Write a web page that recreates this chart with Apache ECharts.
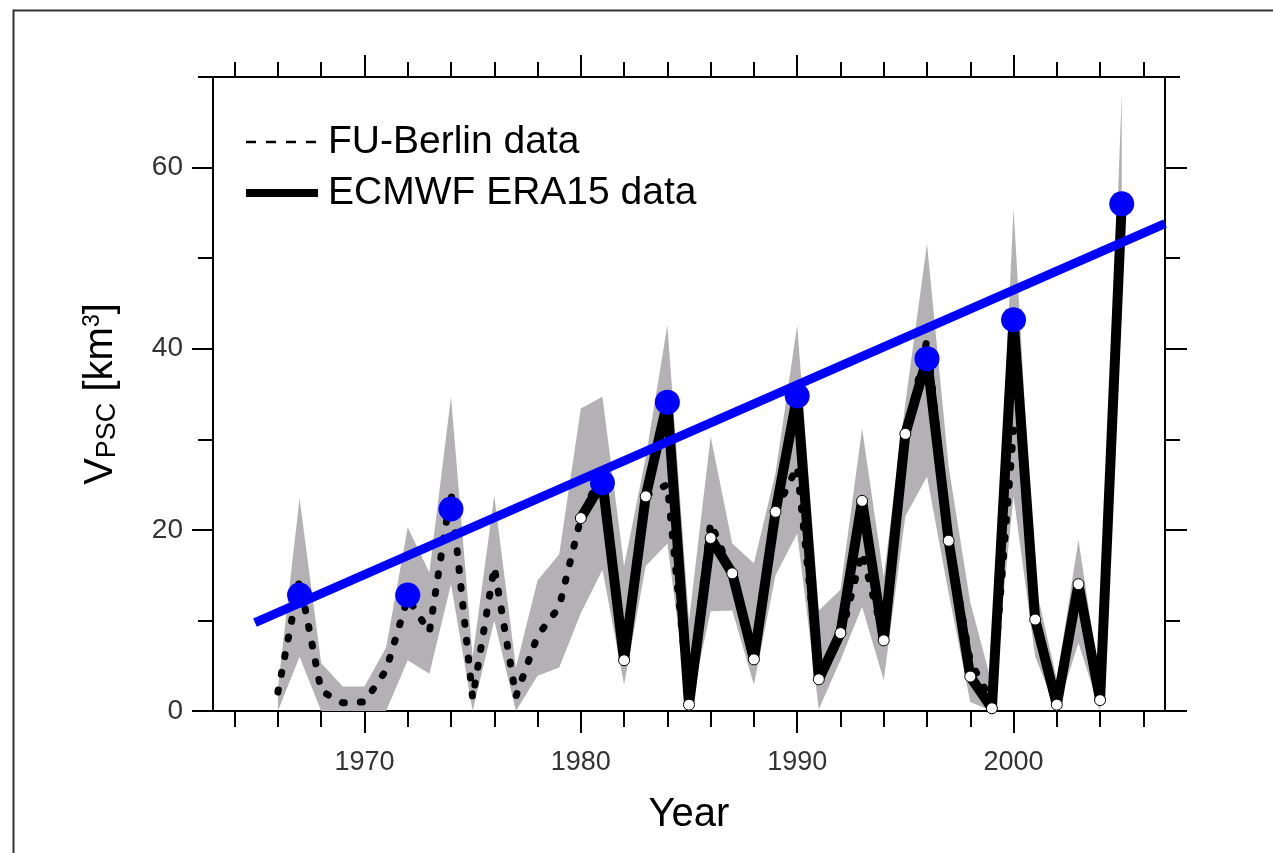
<!DOCTYPE html>
<html>
<head>
  <meta charset="utf-8">
  <title>V_PSC</title>
  <script src="https://cdn.jsdelivr.net/npm/echarts@6/dist/echarts.min.js"></script>
  <style>
    html, body { margin: 0; padding: 0; background: #fff; }
    #main { width: 1273px; height: 853px; }
  </style>
</head>
<body>
<div id="main"></div>
<script>
  // ---- data ----
  var bandYears = [1966, 1967, 1968, 1969, 1970, 1971, 1972, 1973, 1974, 1975,
                   1976, 1977, 1978, 1979, 1980, 1981, 1982, 1983, 1984, 1985,
                   1986, 1987, 1988, 1989, 1990, 1991, 1992, 1993, 1994, 1995,
                   1996, 1997, 1998, 1999, 2000, 2001, 2002, 2003, 2004, 2005];
  var bandUpper = [2.5, 23.5, 5.3, 2.7, 2.7, 7.0, 20.3, 15.3, 34.7, 6.0,
                   23.8, 4.8, 14.4, 17.3, 33.4, 34.7, 16.0, 28.0, 42.6, 10.0,
                   30.3, 18.5, 16.3, 26.3, 42.6, 11.1, 13.4, 31.2, 14.8, 34.0,
                   51.6, 27.0, 12.0, 3.0, 55.5, 14.0, 3.5, 18.9, 3.0, 68.2];
  var bandLower = [0, 6.0, 0, 0, 0, 0, 5.6, 4.1, 14.0, 0,
                   10.0, 0, 3.9, 4.8, 10.8, 15.6, 2.9, 16.0, 18.5, 0,
                   11.0, 11.1, 2.9, 15.0, 19.6, 0.2, 5.6, 11.5, 3.4, 21.5,
                   25.9, 13.0, 1.0, 0, 23.7, 6.0, 0, 7.5, 0, 44.0];

  var fuYears = [1966, 1967, 1968, 1969, 1970, 1971, 1972, 1973, 1974, 1975,
                 1976, 1977, 1978, 1979, 1980, 1981, 1982, 1983, 1984, 1985,
                 1986, 1987, 1988, 1989, 1990, 1991, 1992, 1993, 1994, 1995,
                 1996, 1997, 1998, 1999, 2000];
  var fuValues = [2.1, 14.5, 2.2, 0.9, 1.0, 4.5, 12.5, 8.7, 24.2, 1.4,
                  15.9, 1.6, 8.3, 11.5, 21.3, 26.5, 6.0, 23.8, 25.0, 1.0,
                  20.8, 15.0, 6.5, 22.0, 27.0, 4.0, 8.0, 17.5, 8.0, 30.0,
                  41.0, 19.0, 5.5, 1.0, 31.0];

  var eraYears = [1980, 1981, 1982, 1983, 1984, 1985, 1986, 1987, 1988, 1989,
                  1990, 1991, 1992, 1993, 1994, 1995, 1996, 1997, 1998, 1999,
                  2000, 2001, 2002, 2003, 2004, 2005];
  var eraValues = [21.3, 25.3, 5.6, 23.7, 34.1, 0.7, 19.1, 15.2, 5.7, 22.0,
                   34.8, 3.5, 8.6, 23.2, 7.8, 30.6, 38.9, 18.8, 3.8, 0.3,
                   43.2, 10.1, 0.7, 14.0, 1.2, 56.0];

  var peakYears = [1967, 1972, 1974, 1981, 1984, 1990, 1996, 2000, 2005];
  var peakValues = [12.8, 12.8, 22.3, 25.2, 34.1, 34.8, 38.9, 43.2, 56.0];

  var trendYears = [1964.94, 2007];
  var trendValues = [9.75, 53.8];

  // ticks / labels
  var xMinorTicks = [1964, 1966, 1968, 1970, 1972, 1974, 1976, 1978, 1980, 1982, 1984,
                     1986, 1988, 1990, 1992, 1994, 1996, 1998, 2000, 2002, 2004, 2006];
  var xMajorTicks = [1970, 1980, 1990, 2000];
  var yMinorTicks = [0, 10, 20, 30, 40, 50, 60, 70];
  var yMajorTicks = [0, 20, 40, 60];

  var FONT = "'Liberation Sans', Arial, Helvetica, sans-serif";
  var GRAY = '#b3b1b4';
  var BLUE = '#0000ff';

  function pairs(xs, ys) {
    return xs.map(function (x, i) { return [x, ys[i]]; });
  }
  var eraMarkers = pairs(eraYears, eraValues)
    .filter(function (p) { return peakYears.indexOf(p[0]) < 0; });
  var bandData = bandYears.map(function (y, i) { return [y, bandLower[i], bandUpper[i]]; });

  function plainNum(v) { return String(v); }

  function xAx(grid, pos, ticks, len, labels) {
    return {
      type: 'value', gridIndex: grid, position: pos, min: 1963, max: 2007,
      splitLine: { show: false },
      axisLine: { show: true, onZero: false, lineStyle: { color: '#000', width: 2 } },
      axisTick: { show: true, customValues: ticks, length: len, lineStyle: { color: '#000', width: 2 } },
      axisLabel: labels ? {
        show: true, customValues: xMajorTicks, margin: 38, formatter: plainNum,
        fontSize: 27, color: '#333', fontFamily: FONT
      } : { show: false }
    };
  }
  function yAx(grid, pos, ticks, len, labels) {
    return {
      type: 'value', gridIndex: grid, position: pos, min: 0, max: 70,
      splitLine: { show: false },
      axisLine: { show: true, onZero: false, lineStyle: { color: '#000', width: 2 } },
      axisTick: { show: true, customValues: ticks, length: len, lineStyle: { color: '#000', width: 2 } },
      axisLabel: labels ? {
        show: true, customValues: yMajorTicks, margin: 30, formatter: plainNum,
        fontSize: 28, color: '#333', fontFamily: FONT
      } : { show: false }
    };
  }

  var xBottomMajor = xAx(1, 'bottom', xMajorTicks, 22, true);
  xBottomMajor.name = 'Year';
  xBottomMajor.nameLocation = 'middle';
  xBottomMajor.nameGap = 84;
  xBottomMajor.nameTextStyle = { fontSize: 40, color: '#000', fontFamily: FONT };

  var yLeftMajor = yAx(1, 'left', yMajorTicks, 21, true);
  yLeftMajor.name = '{a|V}{b|PSC}{a| [km}{c|3}{a|]}';
  yLeftMajor.nameLocation = 'middle';
  yLeftMajor.nameRotate = 90;
  yLeftMajor.nameGap = 92;
  yLeftMajor.nameTextStyle = {
    color: '#000', fontFamily: FONT, fontSize: 40,
    rich: {
      a: { fontSize: 40, color: '#000', fontFamily: FONT },
      b: { fontSize: 27, color: '#000', fontFamily: FONT, verticalAlign: 'bottom' },
      c: { fontSize: 23, color: '#000', fontFamily: FONT, verticalAlign: 'top' }
    }
  };

  var chart = echarts.init(document.getElementById('main'));
  var option = {
    animation: false,
    backgroundColor: '#fff',
    grid: [
      { left: 213, right: 108, top: 77, bottom: 142 },
      { left: 213, right: 108, top: 77, bottom: 142 }
    ],
    xAxis: [
      xAx(0, 'bottom', xMinorTicks, 16, false),
      xAx(0, 'top', xMinorTicks, 15, false),
      xBottomMajor,
      xAx(1, 'top', xMajorTicks, 22, false)
    ],
    yAxis: [
      yAx(0, 'left', yMinorTicks, 15, false),
      yAx(0, 'right', yMinorTicks, 15, false),
      yLeftMajor,
      yAx(1, 'right', yMajorTicks, 22, false)
    ],
    legend: {
      left: 242, top: 122, orient: 'vertical', padding: 0,
      itemWidth: 72, itemHeight: 14, itemGap: 11,
      selectedMode: false,
      textStyle: { fontSize: 39, color: '#000', fontFamily: FONT, lineHeight: 40, padding: [0, 0, 0, 5] },
      data: [
        { name: 'FU-Berlin data', itemStyle: { opacity: 0 },
          lineStyle: { type: [10, 10], width: 2.5, cap: 'butt', color: '#000' } },
        { name: 'ECMWF ERA15 data', itemStyle: { opacity: 0 },
          lineStyle: { width: 8, color: '#000' } }
      ]
    },
    graphic: [{
      type: 'rect', left: 11, top: 8, silent: true,
      shape: { width: 1300, height: 900 },
      style: { fill: null, stroke: '#333', lineWidth: 2 }
    }],
    series: [
      {
        name: 'band', type: 'custom', z: 1, silent: true,
        data: bandData,
        encode: { x: 0, y: [1, 2] },
        renderItem: function (params, api) {
          if (params.dataIndex !== 0) return null;
          var pts = [];
          for (var i = 0; i < bandData.length; i++) {
            pts.push(api.coord([bandData[i][0], bandData[i][2]]));
          }
          for (var j = bandData.length - 1; j >= 0; j--) {
            pts.push(api.coord([bandData[j][0], bandData[j][1]]));
          }
          return { type: 'polygon', shape: { points: pts }, style: { fill: GRAY } };
        }
      },
      {
        name: 'FU-Berlin data', type: 'line', z: 2,
        data: pairs(fuYears, fuValues),
        symbol: 'none', itemStyle: { color: '#000' },
        lineStyle: { color: '#000', width: 7, type: [2, 16], cap: 'round' }
      },
      {
        name: 'ECMWF ERA15 data', type: 'line', z: 3,
        data: pairs(eraYears, eraValues),
        symbol: 'none', itemStyle: { color: '#000' },
        lineStyle: { color: '#000', width: 10, join: 'bevel' }
      },
      {
        name: 'era-markers', type: 'scatter', z: 4,
        data: eraMarkers, symbol: 'circle', symbolSize: 11,
        itemStyle: { color: '#fff', borderColor: '#000', borderWidth: 1, opacity: 1 }
      },
      {
        name: 'trend', type: 'line', z: 5,
        data: pairs(trendYears, trendValues),
        symbol: 'none', lineStyle: { color: BLUE, width: 9 }
      },
      {
        name: 'peaks', type: 'scatter', z: 6,
        data: pairs(peakYears, peakValues), symbol: 'circle', symbolSize: 25,
        itemStyle: { color: BLUE, opacity: 1 }
      }
    ]
  };
  chart.setOption(option);
  window.onresize = function () { chart.resize(); };
</script>
</body>
</html>
